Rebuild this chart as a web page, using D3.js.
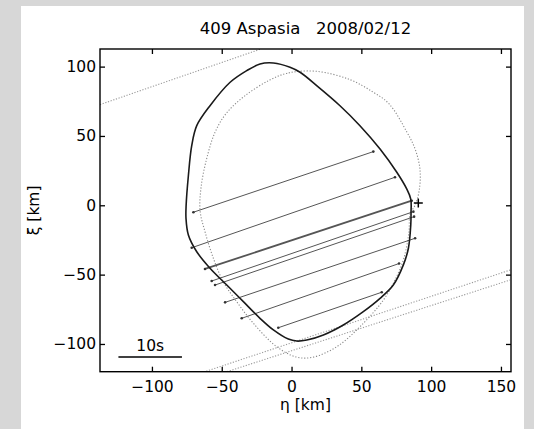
<!DOCTYPE html>
<html>
<head>
<meta charset="utf-8">
<script src="https://cdn.jsdelivr.net/npm/d3@7"></script>
<style>
  html, body { margin: 0; padding: 0; background: #d7d7d7; }
  svg { display: block; }
  text { font-family: "DejaVu Sans", "Liberation Sans", Arial, sans-serif; fill: #000; }
</style>
</head>
<body>
<div id="chart"></div>
<script>
// ---------- data ----------
const title = "409 Aspasia   2008/02/12";
const xLabel = "η [km]";
const yLabel = "ξ [km]";
const etaTicks = [-100, -50, 0, 50, 100, 150];
const xiTicks = [-100, -50, 0, 50, 100];

// solid fitted profile (η, ξ)
const profileEta = [-13, -1.1, 6.1, 18, 34.7, 49, 63.4, 75.4, 82.5, 85.4, 85.6, 85.4, 83.7, 80.1, 72.9, 63.4, 51.4, 37.1, 22.8, 10.9, 3.7, -2.3, -13, -22.6, -34.5, -46.4, -58.4, -67.9, -73.9, -75.6, -75.5, -73.9, -71.5, -67.9, -58.4, -44, -32.1, -22.6];
const profileXi  = [102.6, 99.5, 95.9, 86.3, 71.8, 57.4, 40.6, 23.8, 11.8, 4.5, -5, -14.2, -31, -43, -57.5, -67.1, -76.7, -86.3, -93.5, -97.2, -97.9, -96.5, -89.9, -81.5, -69.5, -57.5, -45.4, -33.5, -21.4, -9.4, 0, 21.3, 43, 57.4, 71.8, 88.7, 97.1, 101.9];

// dotted (alternative) profile
const altEta = [-15.5, -2, 18, 41.8, 58.6, 70, 82.5, 88.5, 92, 91.5, 88.5, 85, 84, 80.5, 75, 65.8, 49, 32.4, 15.6, 3.7, -10.6, -27.4, -39.3, -48.9, -56, -62, -65.5, -64.8, -60.7, -54.8, -47, -34];
const altXi  = [90.4, 95.5, 96.6, 90.6, 81.5, 73, 53, 40.6, 26, 11, 0, -6, -20, -38, -52, -68.3, -87.6, -102, -109.5, -109.5, -102, -85, -69.5, -55.1, -38.2, -19, -4, 13, 34, 52.6, 66, 78.5];

// observed chords: start (η1, ξ1) and end (η2, ξ2)
const chordEta1 = [-70.3, -71.5, -62, -57.2, -54.8, -47.6, -35.7, -9.5];
const chordXi1  = [-5, -30.6, -45.9, -54.6, -57.5, -70, -81.5, -88.3];
const chordEta2 = [58.6, 74.1, 86.1, 87.3, 87.8, 88.5, 77, 64.6];
const chordXi2  = [38.7, 20.2, 3.3, -4.6, -8.2, -23.8, -42, -62.7];
const chordWeight = [1, 1, 1.8, 1, 1, 1, 1, 1];

// negative (miss) chords, dotted
const missEta1 = [-137.2, -63, -50];
const missXi1  = [72.6, -120.3, -121.2];
const missEta2 = [-22, 156.5, 156.5];
const missXi2  = [112.7, -46.7, -53.9];

// single point marker
const markEta = [90.8];
const markXi = [1.7];

// scale bar
const barLabel = "10s";
const barEta = [-124, -78.5];
const barXi = -109.4;

// ---------- drawing ----------
const W = 534, H = 429;
const svg = d3.select("#chart").append("svg").attr("width", W).attr("height", H);

svg.append("rect").attr("x", 0).attr("y", 0).attr("width", W).attr("height", H).attr("fill", "#d7d7d7");
svg.append("rect").attr("x", 21).attr("y", 6).attr("width", 503).attr("height", H - 6).attr("fill", "#fff");

const L = 100, R = 511, T = 49, B = 371.7;
const x = d3.scaleLinear().domain([-137.2, 157.2]).range([L, R]);
const y = d3.scaleLinear().domain([-120, 112.7]).range([B, T]);

svg.append("defs").append("clipPath").attr("id", "clip")
  .append("rect").attr("x", L).attr("y", T).attr("width", R - L).attr("height", B - T);

const g = svg.append("g").attr("clip-path", "url(#clip)");

// miss chords (dotted)
missEta1.forEach((e, i) => {
  g.append("line")
    .attr("x1", x(e)).attr("y1", y(missXi1[i]))
    .attr("x2", x(missEta2[i])).attr("y2", y(missXi2[i]))
    .attr("stroke", "#9a9a9a").attr("stroke-width", 1.1)
    .attr("stroke-dasharray", "1.2,1.6");
});

// alternative profile (dotted)
const altPts = altEta.map((e, i) => [x(e), y(altXi[i])]);
g.append("path")
  .attr("d", d3.line().curve(d3.curveCatmullRomClosed)(altPts))
  .attr("fill", "none").attr("stroke", "#8a8a8a").attr("stroke-width", 1.1)
  .attr("stroke-dasharray", "1.2,1.8");

// chords
chordEta1.forEach((e, i) => {
  g.append("line")
    .attr("x1", x(e)).attr("y1", y(chordXi1[i]))
    .attr("x2", x(chordEta2[i])).attr("y2", y(chordXi2[i]))
    .attr("stroke", "#555").attr("stroke-width", chordWeight[i]);
  [[e, chordXi1[i]], [chordEta2[i], chordXi2[i]]].forEach(p => {
    g.append("circle").attr("cx", x(p[0])).attr("cy", y(p[1])).attr("r", 1.3).attr("fill", "#333");
  });
});

// fitted profile (solid)
const profPts = profileEta.map((e, i) => [x(e), y(profileXi[i])]);
g.append("path")
  .attr("d", d3.line().curve(d3.curveCatmullRomClosed)(profPts))
  .attr("fill", "none").attr("stroke", "#1a1a1a").attr("stroke-width", 1.6);

// plus marker
markEta.forEach((e, i) => {
  const cx = x(e), cy = y(markXi[i]);
  g.append("path").attr("d", `M${cx - 4.5},${cy}H${cx + 4.5}M${cx},${cy - 4.5}V${cy + 4.5}`)
    .attr("stroke", "#000").attr("stroke-width", 1.5);
});

// scale bar
svg.append("line")
  .attr("x1", x(barEta[0])).attr("x2", x(barEta[1]))
  .attr("y1", y(barXi)).attr("y2", y(barXi))
  .attr("stroke", "#000").attr("stroke-width", 1.4);
svg.append("text")
  .attr("x", (x(barEta[0]) + x(barEta[1])) / 2).attr("y", y(barXi) - 6)
  .attr("text-anchor", "middle").attr("font-size", 15.5).text(barLabel);

// axes
const fmt = d3.format("d");
const axB = svg.append("g").attr("transform", `translate(0,${B})`)
  .call(d3.axisBottom(x).tickValues(etaTicks).tickSizeInner(-5).tickSizeOuter(0).tickPadding(9).tickFormat(fmt));
const axT = svg.append("g").attr("transform", `translate(0,${T})`)
  .call(d3.axisTop(x).tickValues(etaTicks).tickSizeInner(-5).tickSizeOuter(0).tickFormat(""));
const axL = svg.append("g").attr("transform", `translate(${L},0)`)
  .call(d3.axisLeft(y).tickValues(xiTicks).tickSizeInner(-5).tickSizeOuter(0).tickPadding(4).tickFormat(fmt));
const axR = svg.append("g").attr("transform", `translate(${R},0)`)
  .call(d3.axisRight(y).tickValues(xiTicks).tickSizeInner(-5).tickSizeOuter(0).tickFormat(""));

[axB, axT, axL, axR].forEach(a => {
  a.select(".domain").remove();
  a.selectAll(".tick line").attr("stroke", "#000").attr("stroke-width", 1.3);
  a.selectAll(".tick text").attr("font-size", 15.5).attr("font-family", "DejaVu Sans, sans-serif").attr("fill", "#000");
});

svg.append("rect").attr("x", L).attr("y", T).attr("width", R - L).attr("height", B - T)
  .attr("fill", "none").attr("stroke", "#000").attr("stroke-width", 1.4);

// title & labels
svg.append("text").attr("x", (L + R) / 2).attr("y", 34).attr("text-anchor", "middle")
  .attr("font-size", 16.5).attr("xml:space", "preserve").style("white-space", "pre").text(title);
svg.append("text").attr("x", (L + R) / 2).attr("y", 410).attr("text-anchor", "middle")
  .attr("font-size", 15.5).text(xLabel);
svg.append("text").attr("transform", `translate(39,${(T + B) / 2}) rotate(-90)`)
  .attr("text-anchor", "middle").attr("font-size", 15.5).text(yLabel);
</script>
</body>
</html>
